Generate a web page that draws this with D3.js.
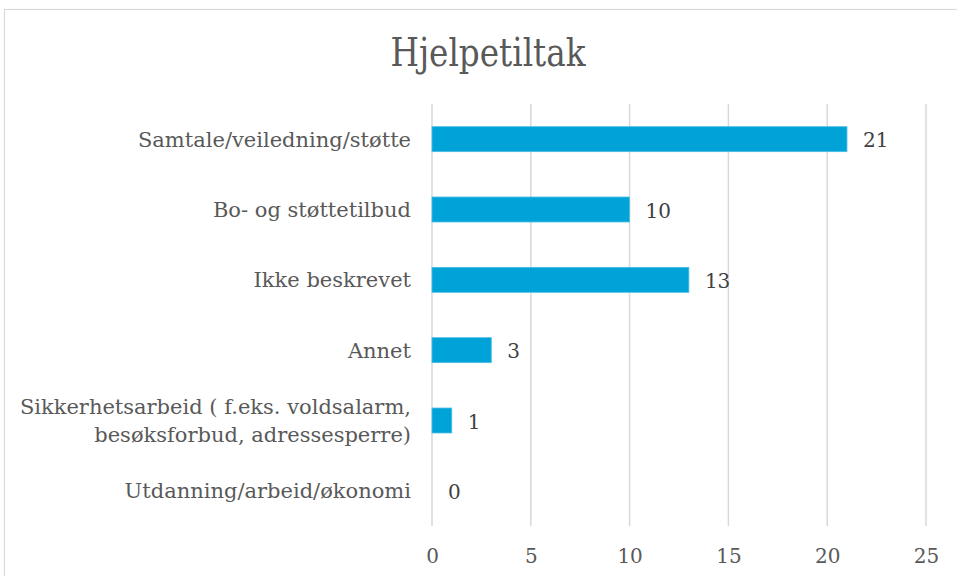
<!DOCTYPE html>
<html><head><meta charset="utf-8">
<script src="https://cdn.jsdelivr.net/npm/d3@7"></script>
<style>body{margin:0;background:#fff}svg{display:block}</style>
</head><body>
<svg id="c" width="957" height="576"></svg>
<script>
const categories = ["Samtale/veiledning/støtte","Bo- og støttetilbud","Ikke beskrevet","Annet","Sikkerhetsarbeid ( f.eks. voldsalarm,|besøksforbud, adressesperre)","Utdanning/arbeid/økonomi"];
const values = [21,10,13,3,1,0];
const ticks = [0,5,10,15,20,25];
const title = "Hjelpetiltak";

const svg = d3.select("#c");
const font = "'DejaVu Serif', Georgia, serif";
const grey = "#595959";

svg.append("rect").attr("x",4.5).attr("y",9.5).attr("width",1000).attr("height",700)
  .attr("fill","#fff").attr("stroke","#d9d9d9").attr("stroke-width",1.2);

const x = d3.scaleLinear().domain([0,25]).range([432,926]);
const y = d3.scaleBand().domain(categories).range([104,526]).paddingInner(0.645).paddingOuter(0.3225);

svg.append("g").selectAll("line").data(ticks).join("line")
  .attr("x1",d=>x(d)).attr("x2",d=>x(d)).attr("y1",104).attr("y2",526)
  .attr("stroke","#d9d9d9").attr("stroke-width",1.5);

const xa = svg.append("g").attr("transform","translate(0,526)")
  .call(d3.axisBottom(x).tickValues(ticks).tickSize(0).tickPadding(0));
xa.select(".domain").remove();
xa.selectAll("text").attr("y",37).attr("dy",0).attr("font-family",font).attr("font-size",20).attr("fill",grey);

svg.append("g").selectAll("rect").data(values).join("rect")
  .attr("x",x(0)).attr("y",(d,i)=>y(categories[i])).attr("width",d=>x(d)-x(0)).attr("height",y.bandwidth())
  .attr("fill","#00A3D7").attr("stroke","#4dbde6").attr("stroke-width",0.8);

svg.append("g").selectAll("text").data(values).join("text")
  .attr("x",d=>x(d)+16).attr("y",(d,i)=>y(categories[i])+y.bandwidth()/2).attr("dy","0.4em")
  .attr("font-family",font).attr("font-size",20).attr("fill","#404040").text(d=>d);

const lab = svg.append("g").selectAll("text").data(categories).join("text")
  .attr("x",411).attr("y",d=>y(d)+y.bandwidth()/2)
  .attr("text-anchor","end").attr("font-family",font).attr("font-size",21).attr("fill",grey);
lab.each(function(d){
  const parts = d.split("|"); const t = d3.select(this);
  parts.forEach((p,i)=>{
    t.append("tspan").attr("x",411).attr("dy", i===0 ? ((0.36 - (parts.length-1)*0.65)+"em") : "1.3em").text(p);
  });
});

svg.append("text").attr("x",488).attr("y",66).attr("text-anchor","middle")
  .attr("font-family",font).attr("font-size",40).attr("fill",grey)
  .attr("textLength",195).attr("lengthAdjust","spacingAndGlyphs").text(title);
</script>
</body></html>
